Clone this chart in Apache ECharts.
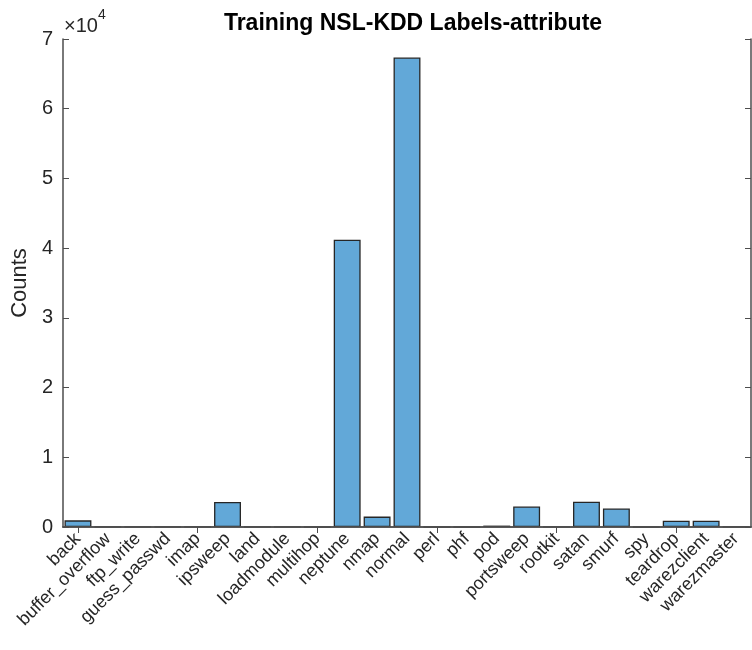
<!DOCTYPE html>
<html>
<head>
<meta charset="utf-8">
<script src="https://cdn.jsdelivr.net/npm/echarts@6/dist/echarts.min.js"></script>
<style>
  html, body { margin: 0; padding: 0; background: #fff; }
  #chart { width: 752px; height: 650px; }
</style>
</head>
<body>
<div id="chart"></div>
<script>
var labels = ['back', 'buffer_overflow', 'ftp_write', 'guess_passwd', 'imap', 'ipsweep',
    'land', 'loadmodule', 'multihop', 'neptune', 'nmap', 'normal', 'perl', 'phf', 'pod',
    'portsweep', 'rootkit', 'satan', 'smurf', 'spy', 'teardrop', 'warezclient', 'warezmaster'];
var counts = [956, 30, 8, 53, 11, 3599, 18, 9, 7, 41214, 1493, 67343, 3, 4, 201,
    2931, 10, 3633, 2646, 2, 892, 890, 20];
var yTicks = [0, 1, 2, 3, 4, 5, 6, 7];

var axisColor = '#4d4d4d';
var font = 'Liberation Sans, Arial, sans-serif';

var myChart = echarts.init(document.getElementById('chart'));
var chartOption = {
    animation: false,
    backgroundColor: '#fff',
    title: {
        text: 'Training NSL-KDD Labels-attribute',
        left: 408,
        textAlign: 'center',
        top: 7,
        textStyle: { fontFamily: font, fontSize: 23, fontWeight: 'bold', color: '#000' }
    },
    graphic: [{
        type: 'text',
        left: 64,
        top: 8,
        style: {
            text: '{a|\u00d710}{b|4}',
            rich: {
                a: { fontFamily: font, fontSize: 20, fill: '#262626', padding: [8, 0, 0, 0] },
                b: { fontFamily: font, fontSize: 14, fill: '#262626', verticalAlign: 'top' }
            }
        }
    }],
    grid: { left: 63, right: 1, top: 39, bottom: 123 },
    xAxis: [{
        type: 'category',
        data: labels,
        z: 5,
        axisLine: { lineStyle: { color: axisColor, width: 1.5 } },
        axisTick: { inside: true, alignWithLabel: true, length: 6, lineStyle: { color: axisColor } },
        axisLabel: { rotate: 45, interval: 0, margin: 9, fontFamily: font, fontSize: 18, color: '#262626' },
        splitLine: { show: false }
    }, {
        type: 'category',
        data: labels,
        position: 'top',
        z: 5,
        axisLine: { show: true, lineStyle: { color: axisColor, width: 1.5 } },
        axisTick: { show: true, inside: true, alignWithLabel: true, length: 6, lineStyle: { color: axisColor } },
        axisLabel: { show: false }
    }],
    yAxis: [{
        type: 'value',
        min: 0,
        max: 70000,
        interval: 10000,
        name: 'Counts',
        nameLocation: 'middle',
        nameGap: 30,
        nameTextStyle: { fontFamily: font, fontSize: 22, color: '#262626' },
        axisLine: { show: true, lineStyle: { color: axisColor, width: 1.5 } },
        axisTick: { show: true, inside: true, length: 6, lineStyle: { color: axisColor } },
        axisLabel: {
            fontFamily: font, fontSize: 20, color: '#262626', margin: 10,
            formatter: function (v) { return String(yTicks[Math.round(v / 10000)]); }
        },
        splitLine: { show: false }
    }, {
        type: 'value',
        min: 0,
        max: 70000,
        interval: 10000,
        position: 'right',
        axisLine: { show: true, lineStyle: { color: axisColor, width: 1.5 } },
        axisTick: { show: true, inside: true, length: 6, lineStyle: { color: axisColor } },
        axisLabel: { show: false },
        splitLine: { show: false }
    }],
    series: [{
        type: 'bar',
        data: counts,
        barCategoryGap: '10%',
        itemStyle: { color: '#62A8D8', borderColor: '#262626', borderWidth: 1.3 }
    }]
};
myChart.setOption(chartOption);
</script>
</body>
</html>
